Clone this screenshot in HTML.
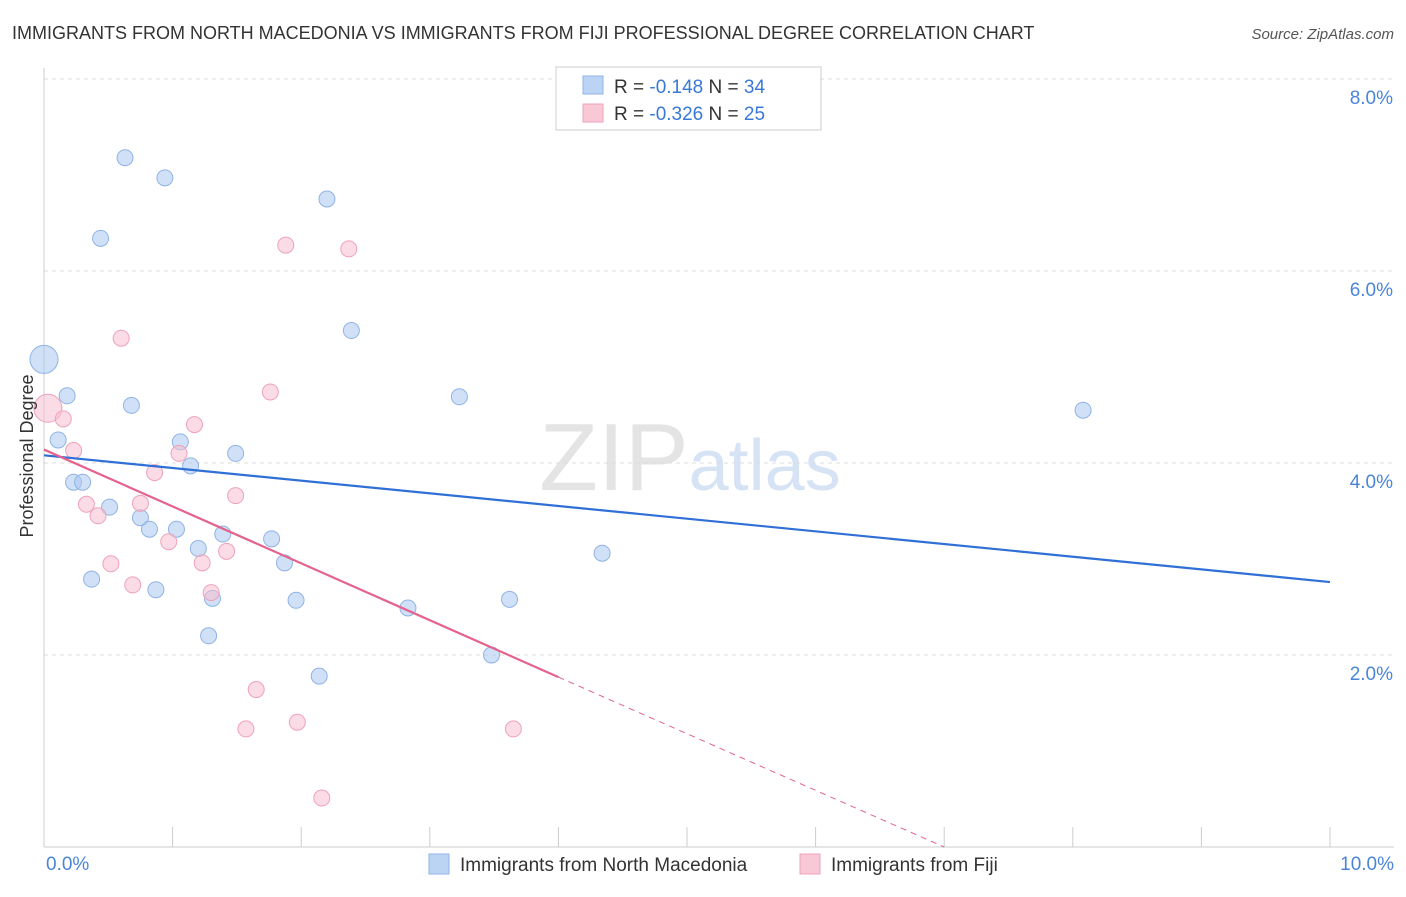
<!DOCTYPE html>
<html><head><meta charset="utf-8"><style>
body{margin:0;background:#fff;font-family:"Liberation Sans",sans-serif;}
svg text{font-family:"Liberation Sans",sans-serif;}
</style></head><body>
<svg id="chart" width="1406" height="892" xmlns="http://www.w3.org/2000/svg">
<text x="12" y="39" font-size="18" fill="#333">IMMIGRANTS FROM NORTH MACEDONIA VS IMMIGRANTS FROM FIJI PROFESSIONAL DEGREE CORRELATION CHART</text>
<text x="1394" y="39" font-size="15" fill="#555" text-anchor="end" font-style="italic">Source: ZipAtlas.com</text>
<text x="690" y="490" font-size="96" fill="#e4e4e4" text-anchor="middle" font-family="Liberation Serif">ZIP<tspan fill="#d6e3f5" font-family="Liberation Sans" font-size="72">atlas</tspan></text>
<g id="grid"></g><g id="axes"></g><g id="marks"></g>
<text transform="translate(33,456) rotate(-90)" font-size="18" fill="#333" text-anchor="middle">Professional Degree</text>
<g>
<rect x="556" y="67" width="265" height="63" fill="#fff" stroke="#ccc"/>
<rect x="583" y="76" width="20" height="18" fill="#bcd4f4" stroke="#8fb3e6"/>
<rect x="583" y="104" width="20" height="18" fill="#f9c8d6" stroke="#eea2b8"/>
<text x="614" y="93" font-size="19" fill="#333">R = <tspan fill="#3a78d8">-0.148</tspan>   N = <tspan fill="#3a78d8">34</tspan></text>
<text x="614" y="120" font-size="19" fill="#333">R = <tspan fill="#3a78d8">-0.326</tspan>   N = <tspan fill="#3a78d8">25</tspan></text>
</g>
<g>
<rect x="429" y="854" width="20" height="20" fill="#bcd4f4" stroke="#8fb3e6"/>
<text x="460" y="871" font-size="19" fill="#333">Immigrants from North Macedonia</text>
<rect x="800" y="854" width="20" height="20" fill="#f9c8d6" stroke="#eea2b8"/>
<text x="831" y="871" font-size="19" fill="#333">Immigrants from Fiji</text>
</g>
</svg>
<script>
const yTicks=[2,4,6,8];
const yTickLabels=["2.0%","4.0%","6.0%","8.0%"];
const xTickLabels=["0.0%","10.0%"];
const blueX=[0.63,0.94,0.44,2.2,2.39,0.0,0.18,0.68,3.23,8.08,0.11,1.06,1.49,1.14,0.23,0.3,0.51,0.75,0.82,1.03,1.39,1.77,1.2,4.34,1.87,0.37,0.87,1.31,1.96,3.62,2.83,1.28,3.48,2.14];
const blueY=[7.18,6.97,6.34,6.75,5.38,5.08,4.7,4.6,4.69,4.55,4.24,4.22,4.1,3.97,3.8,3.8,3.54,3.43,3.31,3.31,3.26,3.21,3.11,3.06,2.96,2.79,2.68,2.59,2.57,2.58,2.49,2.2,2.0,1.78];
const blueR=[8,8,8,8,8,14,8,8,8,8,8,8,8,8,8,8,8,8,8,8,8,8,8,8,8,8,8,8,8,8,8,8,8,8];
const pinkX=[1.88,2.37,0.6,1.76,0.03,0.15,1.17,0.23,1.05,0.86,1.49,0.33,0.75,0.42,0.97,1.42,1.23,0.52,0.69,1.3,1.65,1.97,1.57,3.65,2.16];
const pinkY=[6.27,6.23,5.3,4.74,4.57,4.46,4.4,4.13,4.1,3.9,3.66,3.57,3.58,3.45,3.18,3.08,2.96,2.95,2.73,2.65,1.64,1.3,1.23,1.23,0.51];
const pinkR=[8,8,8,8,14,8,8,8,8,8,8,8,8,8,8,8,8,8,8,8,8,8,8,8,8];
const blueTrend=[[0,4.08],[10,2.76]];
const pinkTrend=[[0,4.14],[4,1.77],[7,0]];
const NS="http://www.w3.org/2000/svg";
const X=v=>44+v*128.6, Y=v=>847-v*96;
function mk(t,a,p){const e=document.createElementNS(NS,t);for(const k in a)e.setAttribute(k,a[k]);p.appendChild(e);return e;}
const grid=document.getElementById('grid'),axes=document.getElementById('axes'),marks=document.getElementById('marks');
yTicks.forEach((v,i)=>{
 const l=mk('line',{x1:44,x2:1394,y1:Y(v),y2:Y(v),stroke:'#ddd','stroke-dasharray':'4,4'},grid);
 
 
 const t=mk('text',{x:1393,y:Y(v)+25,'font-size':19,fill:'#4a86d8','text-anchor':'end'},axes);
 t.textContent=yTickLabels[i];
 
 
});
mk('line',{x1:44,x2:44,y1:68,y2:847,stroke:'#ccc'},axes);
mk('line',{x1:44,x2:1394,y1:847,y2:847,stroke:'#ccc'},axes);
for(let i=0;i<=10;i++){const tk=mk('line',{x1:X(i),x2:X(i),y1:827,y2:847,stroke:'#ccc'},axes);
 
 }
[[0,'start',46],[10,'end',1394]].forEach((d,i)=>{const t=mk('text',{x:d[2],y:870,'font-size':19,fill:'#4a86d8','text-anchor':d[1]},axes);t.textContent=xTickLabels[i];
 
 });
blueX.forEach((v,i)=>{const c=mk('circle',{cx:X(v),cy:Y(blueY[i]),r:blueR[i],fill:'rgba(170,200,240,0.55)',stroke:'#8fb3e6'},marks);
 
 });
pinkX.forEach((v,i)=>{const c=mk('circle',{cx:X(v),cy:Y(pinkY[i]),r:pinkR[i],fill:'rgba(248,190,208,0.55)',stroke:'#eea2b8'},marks);
 
 });
const bl=mk('line',{x1:X(blueTrend[0][0]),y1:Y(blueTrend[0][1]),x2:X(blueTrend[1][0]),y2:Y(blueTrend[1][1]),stroke:'#2f6fd6','stroke-width':2.2},marks);


const pl=mk('line',{x1:X(pinkTrend[0][0]),y1:Y(pinkTrend[0][1]),x2:X(pinkTrend[1][0]),y2:Y(pinkTrend[1][1]),stroke:'#e5628c','stroke-width':2.2},marks);


const pd=mk('line',{x1:X(pinkTrend[1][0]),y1:Y(pinkTrend[1][1]),x2:X(pinkTrend[2][0]),y2:Y(pinkTrend[2][1]),stroke:'#e5628c','stroke-width':1,'stroke-dasharray':'6,5'},marks);


</script>
</body></html>
